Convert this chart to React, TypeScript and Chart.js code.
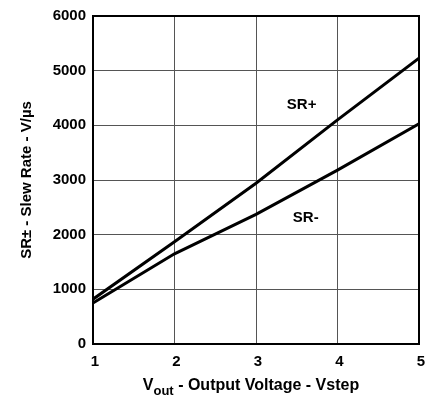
import React, { useEffect, useRef } from "react";
import { Chart, registerables } from "chart.js";

Chart.register(...registerables);

const vout = [1, 2, 3, 4, 5];
const srPlus = [820, 1870, 2940, 4100, 5230];
const srMinus = [750, 1650, 2370, 3180, 4030];
const seriesLabels = ["SR+", "SR-"];
const labelPos = [
  { x: 3.56, y: 4370 },
  { x: 3.61, y: 2300 },
];
const yTitle = "SR\u00B1 - Slew Rate - V/\u00B5s";

const FONT = "'Liberation Sans', Arial, sans-serif";

const framePlugin = {
  id: "frame",
  afterDraw(chart: any) {
    const { ctx, chartArea: a, scales } = chart;
    ctx.save();
    ctx.strokeStyle = "#000";
    ctx.lineWidth = 2;
    ctx.strokeRect(a.left, a.top, a.right - a.left, a.bottom - a.top);
    // series labels
    ctx.fillStyle = "#000";
    ctx.font = `bold 15px ${FONT}`;
    ctx.textAlign = "center";
    ctx.textBaseline = "middle";
    seriesLabels.forEach((t, i) => {
      ctx.fillText(t, scales.x.getPixelForValue(labelPos[i].x), scales.y.getPixelForValue(labelPos[i].y));
    });
    // x title with subscript
    const yBase = a.bottom + 46;
    const partA = "V";
    const sub = "out";
    const rest = " - Output Voltage - Vstep";
    ctx.textBaseline = "alphabetic";
    ctx.textAlign = "left";
    ctx.font = `bold 16px ${FONT}`;
    const wA = ctx.measureText(partA).width;
    const wR = ctx.measureText(rest).width;
    ctx.font = `bold 13px ${FONT}`;
    const wS = ctx.measureText(sub).width;
    const total = wA + wS + wR;
    let x0 = (a.left + a.right) / 2 - total / 2 - 5;
    ctx.font = `bold 16px ${FONT}`;
    ctx.fillText(partA, x0, yBase);
    x0 += wA;
    ctx.font = `bold 13px ${FONT}`;
    ctx.fillText(sub, x0, yBase + 5);
    x0 += wS;
    ctx.font = `bold 16px ${FONT}`;
    ctx.fillText(rest, x0, yBase);
    ctx.restore();
  },
};

export default function App() {
  const ref = useRef<HTMLCanvasElement>(null);
  useEffect(() => {
    document.body.style.margin = "0";
    const chart = new Chart(ref.current!, {
      type: "line",
      data: {
        datasets: [
          {
            label: seriesLabels[0],
            data: vout.map((v, i) => ({ x: v, y: srPlus[i] })),
            borderColor: "#000",
            borderWidth: 3,
            pointRadius: 0,
            tension: 0,
          },
          {
            label: seriesLabels[1],
            data: vout.map((v, i) => ({ x: v, y: srMinus[i] })),
            borderColor: "#000",
            borderWidth: 3,
            pointRadius: 0,
            tension: 0,
          },
        ],
      },
      options: {
        animation: false,
        responsive: false,
        layout: { padding: { top: 16, right: 19, left: 0, bottom: 0 } },
        plugins: { legend: { display: false }, tooltip: { enabled: false } },
        scales: {
          x: {
            type: "linear",
            min: 1,
            max: 5,
            ticks: {
              stepSize: 1,
              color: "#000",
              font: { family: FONT, size: 15, weight: "bold" },
              padding: 9,
              labelOffset: 2,
              callback: (v: any) => String(v),
            },
            grid: { color: "#555", lineWidth: 1, drawTicks: false },
            border: { display: false },
            afterFit: (s: any) => { s.height = 53; },
          },
          y: {
            type: "linear",
            min: 0,
            max: 6000,
            ticks: {
              stepSize: 1000,
              color: "#000",
              font: { family: FONT, size: 15, weight: "bold" },
              padding: 7,
              callback: (v: any) => String(v),
            },
            grid: { color: "#555", lineWidth: 1, drawTicks: false },
            border: { display: false },
            title: { display: true, text: yTitle, color: "#000", font: { family: FONT, size: 15, weight: "bold" }, padding: { top: 18, bottom: 0 } },
            afterFit: (s: any) => { s.width = 93; },
          },
        },
      },
      plugins: [framePlugin],
    });
    return () => chart.destroy();
  }, []);
  return (
    <div style={{ width: 438, height: 397, background: "#fff" }}>
      <canvas ref={ref} width={438} height={397} style={{ width: 438, height: 397, display: "block" }} />
    </div>
  );
}
